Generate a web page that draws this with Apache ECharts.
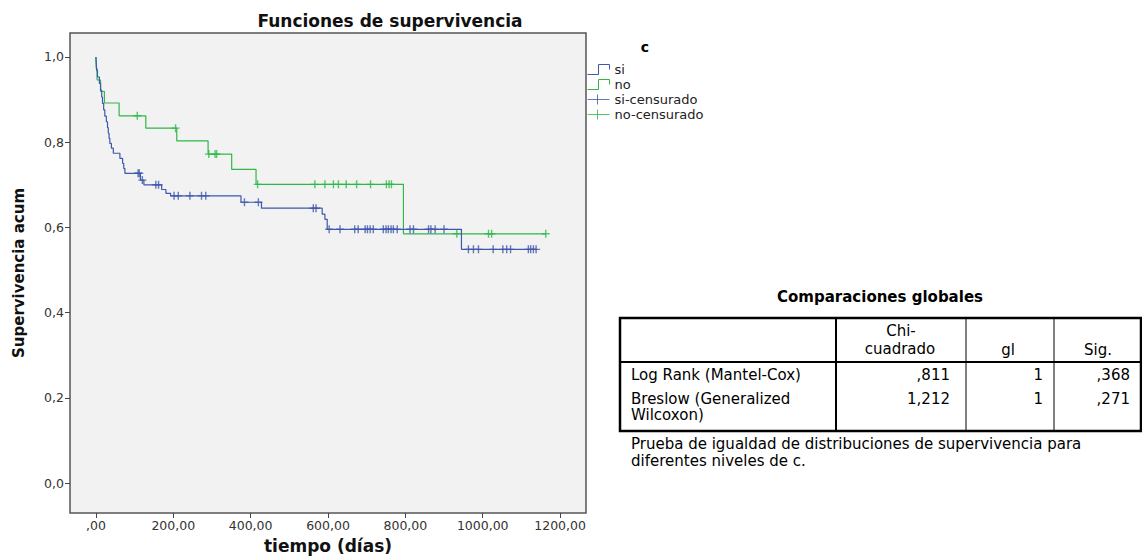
<!DOCTYPE html>
<html>
<head>
<meta charset="utf-8">
<script src="https://cdn.jsdelivr.net/npm/echarts@6/dist/echarts.min.js"></script>
<style>
html,body{margin:0;padding:0;background:#fff;}
#chart{width:1142px;height:559px;}
</style>
</head>
<body>
<div id="chart"></div>
<script>
// ---- data ----
const siEventTimes = [0, 1, 2, 4, 9, 12, 15, 17, 20, 23, 27, 30, 32, 34, 36, 40, 45, 62, 69, 72, 75, 115, 124, 170, 181, 193, 375, 428, 585, 592, 598, 945];
const siSurvival   = [1.0, 0.984, 0.968, 0.953, 0.938, 0.922, 0.906, 0.891, 0.876, 0.861, 0.848, 0.834, 0.821, 0.809, 0.797, 0.786, 0.774, 0.762, 0.750, 0.738, 0.727, 0.711, 0.700, 0.689, 0.680, 0.674, 0.659, 0.645, 0.631, 0.619, 0.5955, 0.5485];
const siCensorTimes = [109, 112, 120, 155, 162, 202, 213, 243, 273, 284, 384, 420, 562, 569, 603, 631, 669, 678, 696, 702, 709, 717, 743, 750, 756, 763, 769, 779, 812, 821, 860, 866, 877, 900, 963, 976, 989, 1027, 1052, 1062, 1072, 1118, 1124, 1131, 1138];

const noEventTimes = [0, 1, 3, 12, 22, 60, 129, 209, 290, 351, 414, 795];
const noSurvival   = [1.0, 0.973, 0.946, 0.919, 0.892, 0.862, 0.833, 0.803, 0.772, 0.736, 0.701, 0.585];
const noCensorTimes = [107, 206, 292, 308, 312, 418, 566, 592, 614, 627, 647, 674, 710, 751, 758, 764, 933, 1015, 1023, 1163];

const xTicks = [0, 200, 400, 600, 800, 1000, 1200];
const yTicks = [0, 0.2, 0.4, 0.6, 0.8, 1.0];

const tableTitle = 'Comparaciones globales';
const tableHeader = [['Chi-', 'cuadrado'], ['gl'], ['Sig.']];
const tableRowLabels = [['Log Rank (Mantel-Cox)'], ['Breslow (Generalized', 'Wilcoxon)']];
const tableChi = [',811', '1,212'];
const tableGl = ['1', '1'];
const tableSig = [',368', ',271'];
const tableNote = ['Prueba de igualdad de distribuciones de supervivencia para', 'diferentes niveles de c.'];

// ---- helpers ----
const BLUE = '#3e58ac';
const GREEN = '#2eb848';
const FONT = 'DejaVu Sans';

function survAt(times, surv, t) {
  let s = surv[0];
  for (let i = 0; i < times.length; i++) { if (times[i] <= t) s = surv[i]; }
  return s;
}
function stepData(times, surv, censors) {
  const d = times.map((t, i) => [t, surv[i]]);
  const end = Math.max.apply(null, censors);
  d.push([end, survAt(times, surv, end)]);
  return d;
}
function censorData(times, surv, censors) {
  return censors.map(t => [t, survAt(times, surv, t)]);
}

const crossSymbol = 'path://M3.3,0H4.7V3.3H8V4.7H4.7V8H3.3V4.7H0V3.3H3.3Z';
const stepIcon = 'path://M0,10L11,10L11,0L22,0L22,5';
const crossIcon = 'path://M0,5L22,5M10,0L10,10';

// ---- table graphic ----
const TL = 620, TR = 1141, TT = 318, TB = 431, HB = 362;
const C1 = 836, C2 = 966, C3 = 1054;
function txt(x, y, s, align, bold, size) {
  return { type: 'text', x: x, y: y, silent: true,
    style: { text: s, fill: '#000', textAlign: align || 'left', textVerticalAlign: 'middle',
      font: (bold ? 'bold ' : 'normal ') + (size || 15) + 'px "' + FONT + '"' } };
}
function ln(x1, y1, x2, y2, w) {
  return { type: 'line', silent: true, shape: { x1: x1, y1: y1, x2: x2, y2: y2 },
    style: { stroke: '#000', lineWidth: w } };
}
const g = [];
g.push(txt(880, 297, tableTitle, 'center', true, 15));
g.push({ type: 'rect', silent: true, shape: { x: TL, y: TT, width: TR - TL, height: TB - TT },
  style: { fill: '#fff', stroke: '#000', lineWidth: 2.5 } });
g.push(ln(TL, HB, TR, HB, 2));
g.push(ln(C1, TT, C1, TB, 2));
g.push(ln(C2, TT, C2, TB, 1));
g.push(ln(C3, TT, C3, TB, 1));
// header
g.push(txt(901, 331, tableHeader[0][0], 'center'));
g.push(txt(900, 349, tableHeader[0][1], 'center'));
g.push(txt(1008, 350, tableHeader[1][0], 'center'));
g.push(txt(1098, 350, tableHeader[2][0], 'center'));
// rows
const rowY = [375, 399];
tableRowLabels.forEach((lines, r) => {
  lines.forEach((s, k) => g.push(txt(631, rowY[r] + k * 16, s, 'left')));
  g.push(txt(950, rowY[r], tableChi[r], 'right'));
  g.push(txt(1043, rowY[r], tableGl[r], 'right'));
  g.push(txt(1130, rowY[r], tableSig[r], 'right'));
});
tableNote.forEach((s, k) => g.push(txt(631, 444 + k * 17, s, 'left')));
// legend title
g.push(txt(645, 47, 'c', 'center', true, 14));

// ---- chart ----
const chart = echarts.init(document.getElementById('chart'), null, { renderer: 'svg' });
const fmtX = v => v === 0 ? ',00' : v.toFixed(2).replace('.', ',');
const fmtY = v => v.toFixed(1).replace('.', ',');

chart.setOption({
  backgroundColor: '#ffffff',
  animation: false,
  title: {
    text: 'Funciones de supervivencia', left: 385, top: 7, textAlign: 'center',
    textStyle: { fontFamily: FONT, fontSize: 17, fontWeight: 'bold', color: '#111' }
  },
  grid: {
    left: 70, right: 556, top: 33, bottom: 46, show: true,
    backgroundColor: '#f2f2f2', borderColor: '#555', borderWidth: 1.5
  },
  legend: {
    orient: 'vertical', left: 587, top: 63, padding: 0,
    itemWidth: 22, itemHeight: 10, itemGap: 2, selectedMode: false,
    textStyle: { fontFamily: FONT, fontSize: 13, color: '#222', lineHeight: 13 },
    data: [
      { name: 'si', icon: stepIcon, itemStyle: { color: 'rgba(0,0,0,0)', borderColor: BLUE, borderWidth: 1 } },
      { name: 'no', icon: stepIcon, itemStyle: { color: 'rgba(0,0,0,0)', borderColor: GREEN, borderWidth: 1 } },
      { name: 'si-censurado', icon: crossIcon, itemStyle: { color: 'rgba(0,0,0,0)', borderColor: BLUE, borderWidth: 1 } },
      { name: 'no-censurado', icon: crossIcon, itemStyle: { color: 'rgba(0,0,0,0)', borderColor: GREEN, borderWidth: 1 } }
    ]
  },
  xAxis: {
    type: 'value', min: -67, max: 1267, position: 'bottom',
    name: 'tiempo (días)', nameLocation: 'middle', nameGap: 24,
    nameTextStyle: { fontFamily: FONT, fontSize: 17, fontWeight: 'bold', color: '#111' },
    axisLine: { show: false, onZero: false },
    axisTick: { show: true, customValues: xTicks, length: 5, lineStyle: { color: '#444', width: 1 } },
    axisLabel: { customValues: xTicks, formatter: fmtX, fontFamily: FONT, fontSize: 12.5, color: '#333', margin: 6 },
    splitLine: { show: false }
  },
  yAxis: {
    type: 'value', min: -0.0704, max: 1.0563, position: 'left',
    name: 'Supervivencia acum', nameLocation: 'middle', nameGap: 44,
    nameTextStyle: { fontFamily: FONT, fontSize: 15, fontWeight: 'bold', color: '#111' },
    axisLine: { show: false, onZero: false },
    axisTick: { show: true, customValues: yTicks, length: 5, lineStyle: { color: '#444', width: 1 } },
    axisLabel: { customValues: yTicks, formatter: fmtY, fontFamily: FONT, fontSize: 12.5, color: '#333', margin: 6 },
    splitLine: { show: false }
  },
  series: [
    { name: 'si', type: 'line', step: 'end', showSymbol: false, data: stepData(siEventTimes, siSurvival, siCensorTimes),
      lineStyle: { color: BLUE, width: 1.2 }, itemStyle: { color: BLUE }, z: 3 },
    { name: 'no', type: 'line', step: 'end', showSymbol: false, data: stepData(noEventTimes, noSurvival, noCensorTimes),
      lineStyle: { color: GREEN, width: 1.2 }, itemStyle: { color: GREEN }, z: 2 },
    { name: 'si-censurado', type: 'scatter', symbol: crossSymbol, symbolSize: 8,
      data: censorData(siEventTimes, siSurvival, siCensorTimes), itemStyle: { color: BLUE }, z: 4 },
    { name: 'no-censurado', type: 'scatter', symbol: crossSymbol, symbolSize: 8,
      data: censorData(noEventTimes, noSurvival, noCensorTimes), itemStyle: { color: GREEN }, z: 4 }
  ],
  graphic: g
});
</script>
</body>
</html>
